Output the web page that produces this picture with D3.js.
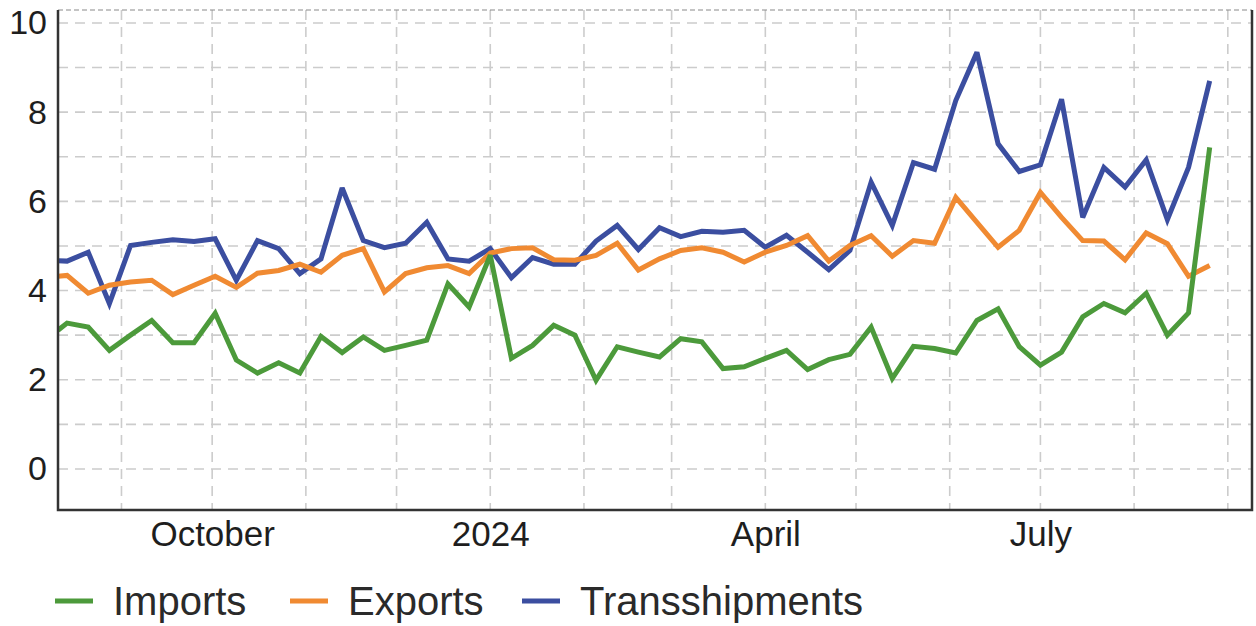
<!DOCTYPE html>
<html>
<head>
<meta charset="utf-8">
<script src="https://cdn.jsdelivr.net/npm/d3@7"></script>
<style>
  html, body { margin: 0; padding: 0; background: #fff; }
  svg { display: block; font-family: "Liberation Sans", Arial, Helvetica, sans-serif; }
</style>
</head>
<body>
<svg id="chart" width="1256" height="626"></svg>
<script>
// ---- Data ----
const dates = [
  "2023-08-11","2023-08-14","2023-08-21","2023-08-28","2023-09-04","2023-09-11","2023-09-18","2023-09-25",
  "2023-10-02","2023-10-09","2023-10-16","2023-10-23","2023-10-30","2023-11-06","2023-11-13","2023-11-20",
  "2023-11-27","2023-12-04","2023-12-11","2023-12-18","2023-12-25","2024-01-01","2024-01-08","2024-01-15",
  "2024-01-22","2024-01-29","2024-02-05","2024-02-12","2024-02-19","2024-02-26","2024-03-04","2024-03-11",
  "2024-03-18","2024-03-25","2024-04-01","2024-04-08","2024-04-15","2024-04-22","2024-04-29","2024-05-06",
  "2024-05-13","2024-05-20","2024-05-27","2024-06-03","2024-06-10","2024-06-17","2024-06-24","2024-07-01",
  "2024-07-08","2024-07-15","2024-07-22","2024-07-29","2024-08-05","2024-08-12","2024-08-19","2024-08-26"
];
const imports = [
  3.11,3.27,3.18,2.66,3.00,3.33,2.83,2.83,3.49,2.44,2.15,2.38,2.15,2.97,2.61,2.96,
  2.66,2.77,2.89,4.15,3.63,4.79,2.48,2.77,3.22,3.00,1.99,2.74,2.62,2.51,2.92,2.85,
  2.25,2.29,2.48,2.66,2.23,2.45,2.57,3.18,2.03,2.75,2.70,2.60,3.33,3.59,2.74,2.33,
  2.62,3.41,3.71,3.50,3.94,3.00,3.50,7.21
];
const exportsData = [
  4.32,4.34,3.94,4.12,4.19,4.23,3.91,4.12,4.32,4.07,4.39,4.45,4.59,4.41,4.79,4.94,
  3.97,4.38,4.51,4.56,4.38,4.84,4.94,4.96,4.69,4.68,4.79,5.06,4.46,4.71,4.90,4.96,
  4.86,4.64,4.86,5.01,5.23,4.66,5.01,5.23,4.77,5.12,5.06,6.09,5.53,4.97,5.35,6.20,
  5.64,5.12,5.11,4.69,5.29,5.05,4.32,4.56
];
const transshipments = [
  4.67,4.66,4.86,3.71,5.01,5.08,5.14,5.10,5.16,4.23,5.12,4.94,4.38,4.71,6.30,5.12,
  4.96,5.06,5.53,4.71,4.66,4.94,4.29,4.74,4.59,4.59,5.11,5.46,4.92,5.41,5.21,5.33,
  5.31,5.35,4.97,5.24,4.86,4.47,4.90,6.43,5.46,6.87,6.72,8.26,9.34,7.29,6.67,6.82,
  8.29,5.64,6.76,6.32,6.93,5.59,6.76,8.70
];
const seriesNames = ["Imports", "Exports", "Transshipments"];
const seriesColors = ["#4c9a3b", "#f08a32", "#3b4ea0"];
const yTickLabels = [0, 2, 4, 6, 8, 10];
const xTickDates = ["2023-10-01", "2024-01-01", "2024-04-01", "2024-07-01"];
const xTickLabels = ["October", "2024", "April", "July"];
const monthGridDates = ["2023-09-01","2023-10-01","2023-11-01","2023-12-01","2024-01-01","2024-02-01",
  "2024-03-01","2024-04-01","2024-05-01","2024-06-01","2024-07-01","2024-08-01","2024-09-01"];
const yGridValues = [0,1,2,3,4,5,6,7,8,9,10];

// ---- Layout ----
const svg = d3.select("#chart");
const pLeft = 58, pRight = 1252, pTop = 10, pBottom = 510;
const parse = d3.utcParse("%Y-%m-%d");

const x = d3.scaleUtc()
  .domain([parse("2023-08-11"), parse("2024-09-09")])
  .range([pLeft, pRight]);
const y = d3.scaleLinear().domain([-0.92, 10.29]).range([pBottom, pTop]);

// clip
svg.append("defs").append("clipPath").attr("id", "plotclip")
  .append("rect").attr("x", pLeft).attr("y", pTop).attr("width", pRight - pLeft).attr("height", pBottom - pTop);

// grid
const grid = svg.append("g");
grid.selectAll("line.h").data(yGridValues).join("line").attr("class", "h")
  .attr("x1", pLeft).attr("x2", pRight)
  .attr("y1", d => y(d)).attr("y2", d => y(d))
  .attr("stroke", "#cccccc").attr("stroke-width", 1.6).attr("stroke-dasharray", "10,7");
grid.selectAll("line.v").data(monthGridDates).join("line").attr("class", "v")
  .attr("x1", d => x(parse(d))).attr("x2", d => x(parse(d)))
  .attr("y1", pTop).attr("y2", pBottom)
  .attr("stroke", "#cccccc").attr("stroke-width", 1.6).attr("stroke-dasharray", "10,7");

// top border
svg.append("line").attr("x1", pLeft).attr("x2", pRight).attr("y1", pTop).attr("y2", pTop)
  .attr("stroke", "#8a8a8a").attr("stroke-width", 1.2).attr("stroke-dasharray", "5,3");

// y axis labels
const yAxis = d3.axisLeft(y).tickValues(yTickLabels).tickSize(0).tickPadding(11).tickFormat(d3.format("d"));
const gy = svg.append("g").attr("transform", `translate(${pLeft},0)`).call(yAxis);
gy.select(".domain").remove();
gy.selectAll("text").attr("font-size", 34).attr("fill", "#1e1e1e")
  .attr("font-family", '"Liberation Sans", Arial, sans-serif');

// x axis labels
const xAxis = d3.axisBottom(x).tickValues(xTickDates.map(parse)).tickSize(0).tickPadding(11)
  .tickFormat((d, i) => xTickLabels[i]);
const gx = svg.append("g").attr("transform", `translate(0,${pBottom})`).call(xAxis);
gx.select(".domain").remove();
gx.selectAll("text").attr("font-size", 35).attr("fill", "#1e1e1e")
  .attr("font-family", '"Liberation Sans", Arial, sans-serif');

// lines
const allSeries = [imports, exportsData, transshipments];
const line = d3.line().x((d, i) => x(parse(dates[i]))).y(d => y(d));
const linesG = svg.append("g").attr("clip-path", "url(#plotclip)");
[2, 1, 0].forEach(si => {
  linesG.append("path").datum(allSeries[si])
    .attr("d", line)
    .attr("fill", "none")
    .attr("stroke", seriesColors[si])
    .attr("stroke-width", 5)
    .attr("stroke-linejoin", "miter")
    .attr("stroke-miterlimit", 3);
});

// frame (left, bottom, right)
svg.append("path")
  .attr("d", `M${pLeft},${pTop} V${pBottom} H${pRight} V${pTop}`)
  .attr("fill", "none").attr("stroke", "#333").attr("stroke-width", 2.5);

// legend
const legendX = [55, 290, 522];
const lg = svg.append("g");
seriesNames.forEach((name, i) => {
  lg.append("line").attr("x1", legendX[i]).attr("x2", legendX[i] + 38)
    .attr("y1", 601).attr("y2", 601)
    .attr("stroke", seriesColors[i]).attr("stroke-width", 5);
  lg.append("text").attr("x", legendX[i] + 58).attr("y", 615)
    .attr("font-size", 40).attr("fill", "#2a2a2a").text(name);
});
</script>
</body>
</html>
